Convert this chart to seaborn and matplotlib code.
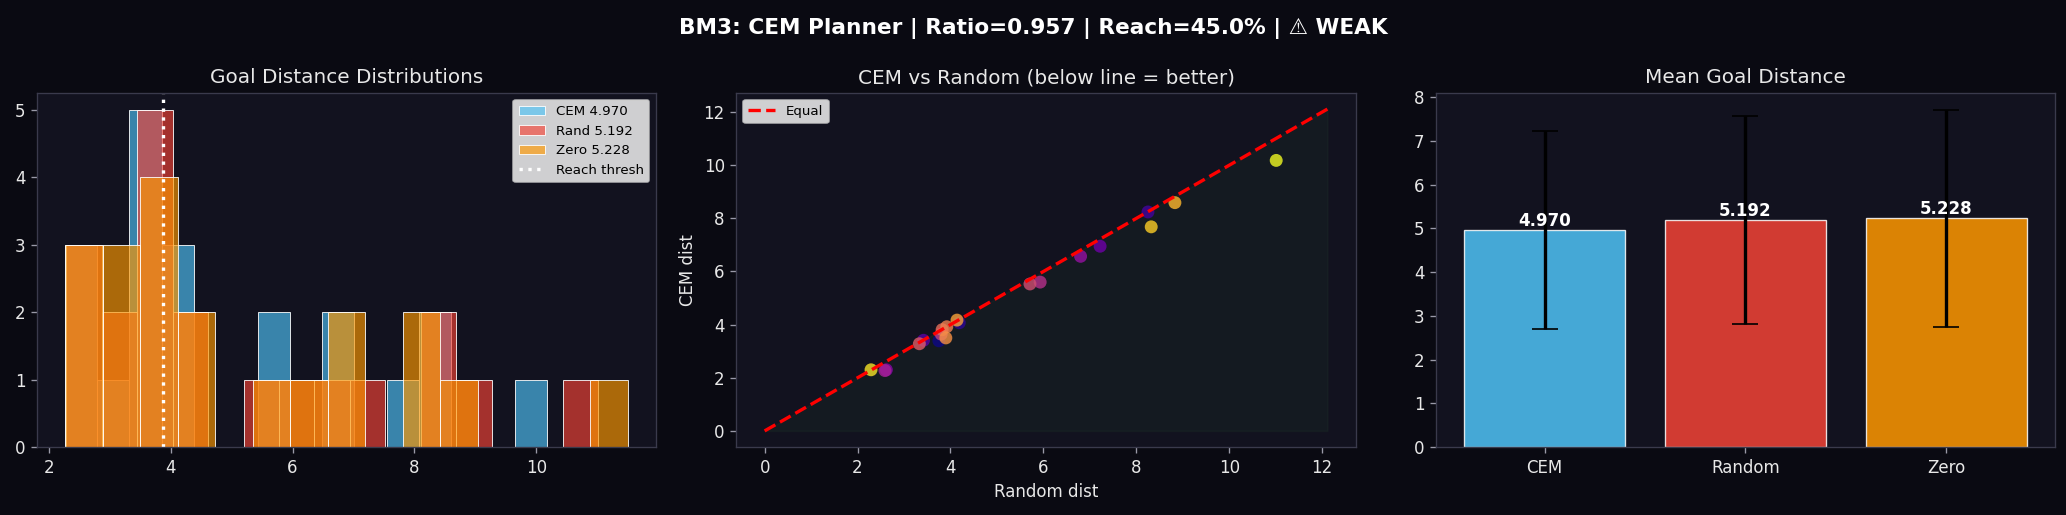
import numpy as np
import pandas as pd
import matplotlib
matplotlib.use('Agg')
import matplotlib.pyplot as plt
import seaborn as sns

# per-episode goal distances (20 episodes)
rand_dist = [3.75, 4.19, 8.25, 3.42, 7.22, 2.62, 6.80, 2.59, 5.93, 3.80,
             5.71, 3.33, 3.82, 3.92, 3.90, 4.14, 8.83, 8.32, 2.29, 11.01]
cem_dist = [3.39, 4.07, 8.24, 3.41, 6.95, 2.30, 6.57, 2.27, 5.60, 3.64,
            5.53, 3.28, 3.81, 3.92, 3.50, 4.17, 8.59, 7.68, 2.30, 10.18]
zero_dist = [2.27, 2.50, 2.75, 3.00, 3.20, 3.40, 3.60, 3.80, 3.90, 4.04,
             4.30, 4.60, 5.80, 6.50, 6.85, 7.15, 8.20, 8.40, 8.80, 11.50]
reach_thresh = 3.88
methods = ['CEM', 'Random', 'Zero']
short_names = ['CEM', 'Rand', 'Zero']
colors = ['#4FC3F7', '#F44336', '#FF9800']

BG = '#0a0a12'
AX_BG = '#12121f'
TXT = '#e8e8e8'

plt.rcParams.update({
    'figure.facecolor': BG,
    'axes.facecolor': AX_BG,
    'axes.edgecolor': '#3a3a4c',
    'xtick.color': '#9a9aa8',
    'ytick.color': '#9a9aa8',
    'xtick.labelcolor': TXT,
    'ytick.labelcolor': TXT,
    'legend.facecolor': 'white',
    'font.family': ['DejaVu Sans'],
})

data = [np.array(cem_dist), np.array(rand_dist), np.array(zero_dist)]
means = [d.mean() for d in data]
stds = [d.std() for d in data]
ratio = means[0] / means[1]
reach = np.mean(data[0] < reach_thresh) * 100

fig, axes = plt.subplots(1, 3, figsize=(2066 / 120, 515 / 120), dpi=120)
fig.subplots_adjust(left=37 / 2066, right=2055 / 2066, bottom=1 - 447 / 515,
                    top=1 - 93 / 515, wspace=0.13)

# --- histograms
ax = axes[0]
for d, nm, c, m in zip(data, short_names, colors, means):
    sns.histplot(x=d, bins=15, color=c, alpha=0.65, edgecolor='white',
                 linewidth=0.5, label=f'{nm} {m:.3f}', ax=ax)
ax.axvline(reach_thresh, color='white', ls=':', lw=2, label='Reach thresh')
ax.set_xlabel('')
ax.set_ylabel('')
ax.set_title('Goal Distance Distributions', color=TXT, fontsize=12)
h, l = ax.get_legend_handles_labels()
h = h[1:] + h[:1]
l = l[1:] + l[:1]
ax.legend(h, l, loc='upper right', fontsize=8)

# --- scatter
ax = axes[1]
df = pd.DataFrame({'rand': rand_dist, 'cem': cem_dist, 'ep': np.arange(len(cem_dist))})
lim = max(max(rand_dist), max(cem_dist)) * 1.1
ax.fill_between([0, lim], [0, lim], 0, color='#4CAF50', alpha=0.05)
ax.plot([0, lim], [0, lim], 'r--', lw=2, label='Equal')
sns.scatterplot(data=df, x='rand', y='cem', hue='ep', palette='plasma', s=60,
                alpha=0.8, linewidth=0, legend=False, ax=ax)
ax.set_xlabel('Random dist', color=TXT)
ax.set_ylabel('CEM dist', color=TXT)
ax.set_title('CEM vs Random (below line = better)', color=TXT, fontsize=12)
ax.legend(loc='upper left', fontsize=8)

# --- mean bars
ax = axes[2]
bdf = pd.DataFrame({'method': methods, 'mean': means})
sns.barplot(data=bdf, x='method', y='mean', hue='method', palette=colors,
            saturation=1, alpha=0.85, edgecolor='white', linewidth=0.8,
            legend=False, ax=ax)
ax.errorbar(range(3), means, yerr=stds, fmt='none', ecolor='black',
            capsize=8, lw=2)
for i, m in enumerate(means):
    ax.text(i, m, f'{m:.3f}', ha='center', va='bottom', color='white',
            fontweight='bold', fontsize=10)
ax.set_xlabel('')
ax.set_ylabel('')
ax.set_title('Mean Goal Distance', color=TXT, fontsize=12)

fig.suptitle(f'BM3: CEM Planner | Ratio={ratio:.3f} | Reach={reach:.1f}% | \u26a0 WEAK',
             color='white', fontsize=13, fontweight='bold', y=0.965)

fig.savefig('out.png', dpi=120, facecolor=BG)
